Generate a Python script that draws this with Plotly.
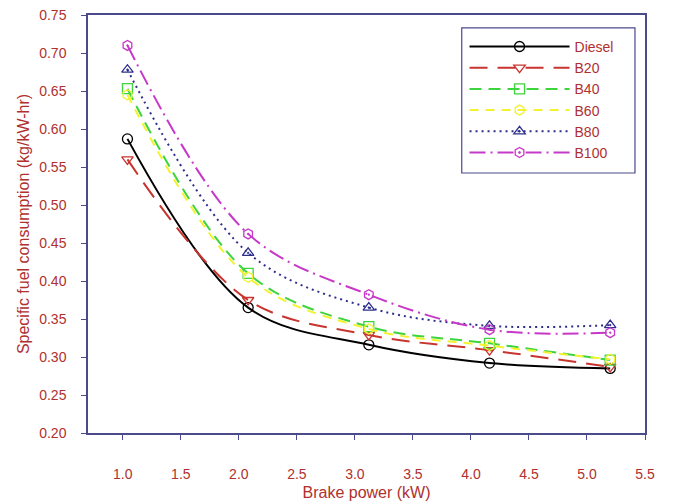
import plotly.graph_objects as go

# Brake power (kW) at each load step
brake_power = [1.04, 2.08, 3.12, 4.16, 5.2]

# Specific fuel consumption (kg/kW-hr) for each fuel blend
sfc_diesel = [0.587, 0.365, 0.316, 0.292, 0.285]
sfc_b20 = [0.560, 0.375, 0.329, 0.309, 0.287]
sfc_b40 = [0.653, 0.410, 0.340, 0.318, 0.296]
sfc_b60 = [0.645, 0.405, 0.337, 0.315, 0.297]
sfc_b80 = [0.678, 0.437, 0.365, 0.341, 0.342]
sfc_b100 = [0.710, 0.462, 0.382, 0.336, 0.332]

x_ticks = [1.0, 1.5, 2.0, 2.5, 3.0, 3.5, 4.0, 4.5, 5.0, 5.5]
y_ticks = [0.20, 0.25, 0.30, 0.35, 0.40, 0.45, 0.50, 0.55, 0.60, 0.65, 0.70, 0.75]

TEXT = "#B0302E"
AXIS = "#4A4A8C"
FONT = "Liberation Sans, Arial"

series = [
    ("Diesel", sfc_diesel, "#000000", "solid", "circle-open"),
    ("B20", sfc_b20, "#C8342E", "18px,10px", "triangle-down-open"),
    ("B40", sfc_b40, "#3ED43E", "12px,7px", "square-open"),
    ("B60", sfc_b60, "#F2F22E", "9px,7px", "hexagon-open"),
    ("B80", sfc_b80, "#2E2E8C", "2px,4px", "triangle-up-open-dot"),
    ("B100", sfc_b100, "#C838C8", "16px,5px,2px,5px", "hexagon-open-dot"),
]

fig = go.Figure()
for name, vals, color, dash, symbol in series:
    fig.add_trace(go.Scatter(
        x=brake_power, y=vals, name=name, mode="lines+markers",
        line=dict(color=color, width=2, dash=dash, shape="spline", smoothing=1.0),
        marker=dict(symbol=symbol, size=10, color=color, line=dict(color=color, width=1.3)),
    ))

axis_common = dict(
    showgrid=False, zeroline=False, showline=True, linecolor=AXIS, linewidth=1.5,
    mirror=True, ticks="outside", ticklen=5, tickcolor=AXIS, tickwidth=1.2,
    tickfont=dict(family=FONT, size=14, color=TEXT), automargin=False,
)

fig.update_xaxes(
    range=[0.7, 5.5], tickvals=x_ticks, ticktext=[f"{v:.1f}" for v in x_ticks],
    ticklabelstandoff=22,
    title=dict(text="Brake power (kW)", font=dict(family=FONT, size=16, color=TEXT), standoff=6),
    **axis_common,
)
fig.update_yaxes(
    range=[0.20, 0.75], tickvals=y_ticks, ticktext=[f"{v:.2f}" for v in y_ticks],
    ticklabelstandoff=12,
    title=dict(text="Specific fuel consumption (kg/kW-hr)", font=dict(family=FONT, size=16, color=TEXT), standoff=6),
    **axis_common,
)

# Legend frame
fig.add_shape(
    type="rect", xref="paper", yref="paper",
    x0=0.671, x1=0.982, y0=0.622, y1=0.969,
    line=dict(color=AXIS, width=1.2), fillcolor="white", layer="below",
)

fig.update_layout(
    width=673, height=502,
    margin=dict(l=88, r=28, t=15, b=69),
    paper_bgcolor="white", plot_bgcolor="white",
    showlegend=True,
    legend=dict(
        x=0.676, y=0.962, xanchor="left", yanchor="top",
        bgcolor="rgba(0,0,0,0)", borderwidth=0,
        font=dict(family=FONT, size=14, color=TEXT),
        itemwidth=100, tracegroupgap=0,
    ),
)

fig.write_html("out.html")
